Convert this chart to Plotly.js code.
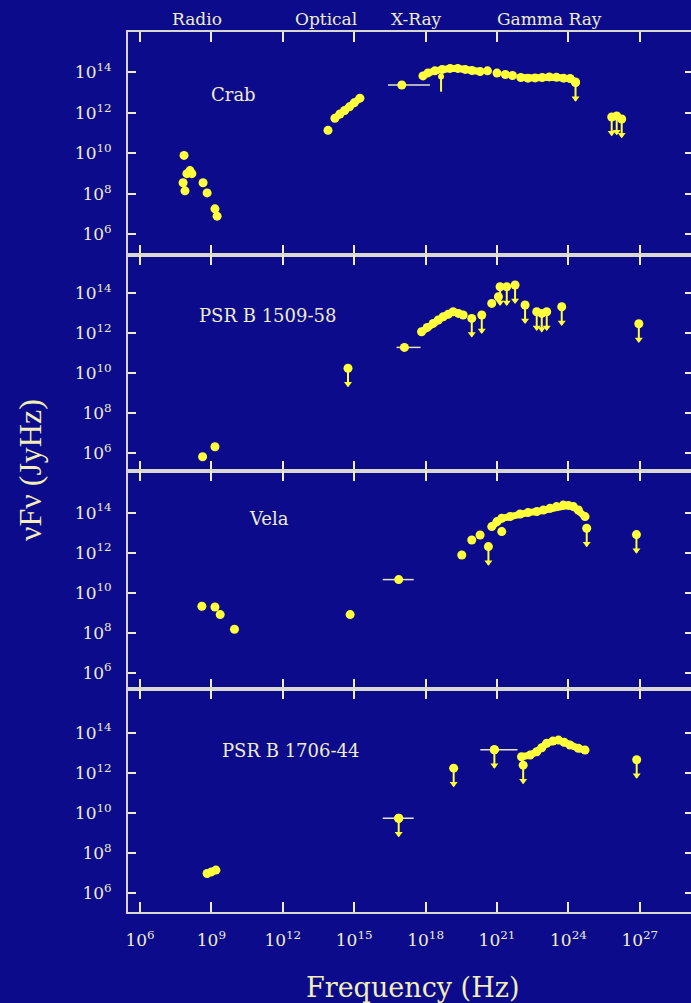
<!DOCTYPE html>
<html>
<head>
<meta charset="utf-8">
<script src="https://cdn.plot.ly/plotly-3.0.1.min.js"></script>
<style>
  html, body { margin: 0; padding: 0; background: #0b0b8c; overflow: hidden; }
  #chart { width: 695px; height: 1003px; }
</style>
</head>
<body>
<div id="chart"></div>
<script>
// Broad-band spectra (log10 of frequency in Hz, log10 of nuF_nu in Jy Hz)

const xTickExp = [6, 9, 12, 15, 18, 21, 24, 27];
const yTickExp = [6, 8, 10, 12, 14];
const bandNames = ['Radio', 'Optical', 'X-Ray', 'Gamma Ray'];
const bandCentreExp = [8.4, 13.8, 17.6, 23.2];
const pulsarNames = ['Crab', 'PSR B 1509-58', 'Vela', 'PSR B 1706-44'];

// ---- Crab ----
const crabRadioX = [7.85, 7.97, 8.1, 8.18, 7.81, 7.89, 8.65, 8.82, 9.15, 9.24];
const crabRadioY = [9.9, 9.0, 9.15, 9.0, 8.55, 8.15, 8.55, 8.05, 7.26, 6.9];
const crabOptX = [13.9];
const crabOptY = [11.14];
const crabOptBandX = [14.19, 14.4, 14.6, 14.8, 15.0, 15.24];
const crabOptBandY = [11.74, 11.95, 12.12, 12.3, 12.5, 12.73];
const crabXbarX = [17.0];
const crabXbarY = [13.38];
const crabXbarLo = [16.42];
const crabXbarHi = [18.18];
const crabHardX = [17.89, 18.1, 18.39, 18.7, 19.03, 19.35, 19.66, 19.95, 20.29];
const crabHardY = [13.83, 13.98, 14.08, 14.15, 14.2, 14.2, 14.15, 14.1, 14.05];
const crabMidX = [20.6, 21.0, 21.35, 21.65];
const crabMidY = [14.08, 13.97, 13.9, 13.85];
const crabGammaX = [22.0, 22.3, 22.6, 22.9, 23.2, 23.5, 23.8, 24.07, 24.3];
const crabGammaY = [13.75, 13.72, 13.73, 13.75, 13.78, 13.76, 13.72, 13.7, 13.53];
const crabErrX = [18.65];
const crabErrY = [13.8];
const crabErrDown = [0.75];
const crabUlX = [24.3, 25.82, 26.03, 26.24];
const crabUlY = [13.5, 11.8, 11.85, 11.7];

// ---- PSR B1509-58 ----
const b1509RadioX = [8.63, 9.15];
const b1509RadioY = [5.83, 6.33];
const b1509XbarX = [17.11];
const b1509XbarY = [11.3];
const b1509XbarLo = [16.78];
const b1509XbarHi = [17.79];
const b1509CurveX = [17.83, 18.07, 18.32, 18.53, 18.74, 18.95, 19.16, 19.38, 19.58];
const b1509CurveY = [12.08, 12.3, 12.5, 12.67, 12.83, 12.96, 13.08, 13.0, 12.92];
const b1509RiseX = [20.78, 21.06];
const b1509RiseY = [13.5, 13.83];
const b1509UlX = [14.74, 19.94, 20.36, 21.13, 21.41, 21.76, 22.18, 22.67, 22.88, 23.09, 23.72, 26.96];
const b1509UlY = [10.26, 12.75, 12.92, 14.33, 14.33, 14.42, 13.42, 13.08, 13.0, 13.08, 13.33, 12.48];

// ---- Vela ----
const velaRadioX = [8.6, 9.15, 9.37, 9.97];
const velaRadioY = [9.32, 9.28, 8.9, 8.17];
const velaOptX = [14.83];
const velaOptY = [8.9];
const velaXbarX = [16.87];
const velaXbarY = [10.65];
const velaXbarLo = [16.2];
const velaXbarHi = [17.5];
const velaSoftX = [19.52, 19.94, 20.29, 21.2];
const velaSoftY = [11.88, 12.63, 12.88, 13.05];
const velaCurveX = [20.78, 21.0, 21.2, 21.55, 21.97, 22.3, 22.67, 22.95, 23.23, 23.5, 23.79, 24.0, 24.21, 24.42, 24.7];
const velaCurveY = [13.3, 13.55, 13.72, 13.8, 13.93, 14.0, 14.05, 14.13, 14.22, 14.3, 14.38, 14.36, 14.3, 14.13, 13.8];
const velaUlX = [20.64, 24.77, 26.86];
const velaUlY = [12.3, 13.22, 12.9];

// ---- PSR B1706-44 ----
const b1706RadioX = [8.82, 9.0, 9.19];
const b1706RadioY = [6.97, 7.05, 7.14];
const b1706CurveX = [22.03, 22.39, 22.67, 22.88, 23.09, 23.35, 23.58, 23.82, 24.07, 24.42, 24.7];
const b1706CurveY = [12.8, 12.88, 13.05, 13.25, 13.47, 13.58, 13.63, 13.52, 13.38, 13.22, 13.13];
const b1706UlX = [16.87, 19.18, 20.89, 22.1, 26.87];
const b1706UlY = [9.73, 12.23, 13.15, 12.38, 12.65];
const b1706BarX = [16.87, 20.89];
const b1706BarY = [9.73, 13.15];
const b1706BarLo = [16.2, 20.3];
const b1706BarHi = [17.5, 21.86];

// ---- styling ----
const BG = '#0b0b8c';
const YELLOW = '#ffff3c';
const PALE = '#efeccb';
const FRAME = '#d9d8cf';
const SERIF = 'DejaVu Serif, Liberation Serif, serif';
const ARROW_DEC = 0.9;   // length of an upper-limit arrow, in decades

const p10 = e => Math.pow(10, e);

function dots(xs, ys, n, size) {
  return {
    type: 'scatter', mode: 'markers', hoverinfo: 'skip',
    x: xs.map(p10), y: ys.map(p10), xaxis: 'x' + n, yaxis: 'y' + n,
    marker: { color: YELLOW, size: size || 9 }
  };
}

function band(xs, ys, n) {
  return {
    type: 'scatter', mode: 'lines+markers', hoverinfo: 'skip',
    x: xs.map(p10), y: ys.map(p10), xaxis: 'x' + n, yaxis: 'y' + n,
    line: { color: YELLOW, width: 7 },
    marker: { color: YELLOW, size: 9 }
  };
}

function hbars(xs, ys, lo, hi, n) {
  return {
    type: 'scatter', mode: 'markers', hoverinfo: 'skip',
    x: xs.map(p10), y: ys.map(p10), xaxis: 'x' + n, yaxis: 'y' + n,
    marker: { color: YELLOW, size: 9 },
    error_x: {
      type: 'data', symmetric: false,
      array: xs.map((e, i) => p10(hi[i]) - p10(e)),
      arrayminus: xs.map((e, i) => p10(e) - p10(lo[i])),
      color: '#e6e4c8', thickness: 1.5, width: 0
    }
  };
}

function downErr(xs, ys, down, n) {
  return {
    type: 'scatter', mode: 'markers', hoverinfo: 'skip',
    x: xs.map(p10), y: ys.map(p10), xaxis: 'x' + n, yaxis: 'y' + n,
    marker: { color: YELLOW, size: 6 },
    error_y: {
      type: 'data', symmetric: false,
      array: xs.map(() => 0),
      arrayminus: ys.map((e, i) => p10(e) - p10(e - down[i])),
      color: YELLOW, thickness: 2, width: 0
    }
  };
}

// upper limits: dot, stem and arrow head
function upperLimits(xs, ys, n) {
  const stems = {
    type: 'scatter', mode: 'markers', hoverinfo: 'skip',
    x: xs.map(p10), y: ys.map(p10), xaxis: 'x' + n, yaxis: 'y' + n,
    marker: { color: YELLOW, size: 9 },
    error_y: {
      type: 'data', symmetric: false,
      array: xs.map(() => 0),
      arrayminus: ys.map(e => p10(e) - p10(e - ARROW_DEC)),
      color: YELLOW, thickness: 2, width: 0
    }
  };
  const heads = {
    type: 'scatter', mode: 'markers', hoverinfo: 'skip',
    x: xs.map(p10), y: ys.map(e => p10(e - ARROW_DEC + 0.12)), xaxis: 'x' + n, yaxis: 'y' + n,
    marker: { color: YELLOW, size: 7, symbol: 'triangle-down' }
  };
  return [stems, heads];
}

const traces = [
  dots(crabRadioX, crabRadioY, 1),
  dots(crabOptX, crabOptY, 1),
  band(crabOptBandX, crabOptBandY, 1),
  hbars(crabXbarX, crabXbarY, crabXbarLo, crabXbarHi, 1),
  band(crabHardX, crabHardY, 1),
  dots(crabMidX, crabMidY, 1),
  band(crabGammaX, crabGammaY, 1),
  downErr(crabErrX, crabErrY, crabErrDown, 1),
  ...upperLimits(crabUlX, crabUlY, 1),

  dots(b1509RadioX, b1509RadioY, 2),
  hbars(b1509XbarX, b1509XbarY, b1509XbarLo, b1509XbarHi, 2),
  band(b1509CurveX, b1509CurveY, 2),
  dots(b1509RiseX, b1509RiseY, 2),
  ...upperLimits(b1509UlX, b1509UlY, 2),

  dots(velaRadioX, velaRadioY, 3),
  dots(velaOptX, velaOptY, 3),
  hbars(velaXbarX, velaXbarY, velaXbarLo, velaXbarHi, 3),
  dots(velaSoftX, velaSoftY, 3),
  band(velaCurveX, velaCurveY, 3),
  ...upperLimits(velaUlX, velaUlY, 3),

  band(b1706RadioX, b1706RadioY, 4),
  hbars(b1706BarX, b1706BarY, b1706BarLo, b1706BarHi, 4),
  band(b1706CurveX, b1706CurveY, 4),
  ...upperLimits(b1706UlX, b1706UlY, 4)
];

// ---- layout ----
const W = 695, H = 1003;
const M = { l: 128, r: 2, t: 32, b: 91 };
const plotH = H - M.t - M.b;
const panelEdgesPx = [32, 255, 471, 689, 912];      // frame lines, from the top
const yRanges = [[4.98, 16.0], [5.12, 15.92], [5.18, 16.08], [5.05, 16.18]];
const xRange = [5.496, 29.236];
const toPaperY = px => (H - M.b - px) / plotH;

const tickFont = { family: SERIF, size: 17, color: PALE };

const layout = {
  width: W, height: H,
  margin: M,
  paper_bgcolor: BG,
  plot_bgcolor: BG,
  showlegend: false,
  annotations: []
};

for (let i = 1; i <= 4; i++) {
  const top = toPaperY(panelEdgesPx[i - 1]);
  const bottom = toPaperY(panelEdgesPx[i]);
  layout['xaxis' + (i === 1 ? '' : i)] = {
    type: 'log', range: xRange, anchor: 'y' + (i === 1 ? '' : i),
    matches: i === 1 ? undefined : 'x',
    tickvals: xTickExp.map(p10),
    ticktext: xTickExp.map(e => '10<sup>' + e + '</sup>'),
    showticklabels: i === 4,
    ticks: 'inside', ticklen: 10, tickwidth: 2, tickcolor: PALE,
    showline: true, linecolor: FRAME, linewidth: 2, mirror: 'ticks',
    showgrid: false, zeroline: false,
    tickfont: tickFont, ticklabelstandoff: 12
  };
  layout['yaxis' + (i === 1 ? '' : i)] = {
    type: 'log', range: yRanges[i - 1], domain: [bottom, top],
    anchor: 'x' + (i === 1 ? '' : i),
    tickvals: yTickExp.map(p10),
    ticktext: yTickExp.map(e => '10<sup>' + e + '</sup>'),
    ticks: 'inside', ticklen: 8, tickwidth: 2, tickcolor: PALE,
    showline: true, linecolor: FRAME, linewidth: 2, mirror: 'ticks',
    showgrid: false, zeroline: false,
    tickfont: tickFont, ticklabelstandoff: 11
  };
}

// source names inside each panel
const nameX = [9.93, 11.36, 11.41, 12.33];
const nameY = [12.9, 12.92, 13.72, 13.13];
pulsarNames.forEach((name, i) => {
  const s = i === 0 ? '' : String(i + 1);
  layout.annotations.push({
    text: name, xref: 'x' + s, yref: 'y' + s, x: nameX[i], y: nameY[i],
    showarrow: false, font: { family: SERIF, size: 18, color: PALE }
  });
});

// waveband names above the top panel
bandNames.forEach((name, i) => {
  layout.annotations.push({
    text: name, xref: 'x', yref: 'paper', x: bandCentreExp[i], y: toPaperY(19),
    yanchor: 'middle', showarrow: false, font: { family: SERIF, size: 17, color: PALE }
  });
});

// axis titles
layout.annotations.push({
  text: 'νFν (JyHz)', xref: 'paper', yref: 'paper',
  x: (30 - M.l) / (W - M.l - M.r), y: toPaperY(470), textangle: -90,
  xanchor: 'center', yanchor: 'middle',
  showarrow: false, font: { family: 'Liberation Serif, serif', size: 32, color: '#f3eeb8' }
});
layout.annotations.push({
  text: 'Frequency (Hz)', xref: 'paper', yref: 'paper',
  x: (412 - M.l) / (W - M.l - M.r), y: toPaperY(987),
  xanchor: 'center', yanchor: 'middle',
  showarrow: false, font: { family: SERIF, size: 27, color: '#f3eeb8' }
});

Plotly.newPlot('chart', traces, layout, { staticPlot: true, displayModeBar: false });
</script>
</body>
</html>
